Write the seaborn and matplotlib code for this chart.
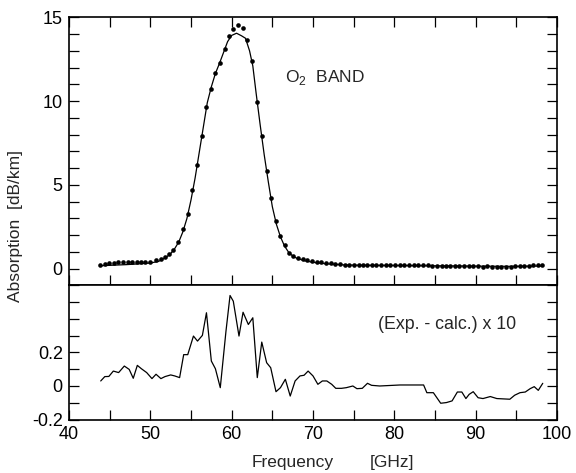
import matplotlib
matplotlib.use("Agg")
import matplotlib.pyplot as plt
from matplotlib.ticker import MultipleLocator, FixedLocator
import seaborn as sns

# Measured absorption (dots)
freq_exp = [43.8, 44.4, 44.9, 45.5, 46.0, 46.6, 47.2, 47.7, 48.3, 48.9, 49.4, 50.0,
            50.7, 51.3, 51.8, 52.3, 52.8, 53.4, 54.05, 54.6, 55.16, 55.7, 56.3, 56.8,
            57.4, 58.0, 58.6, 59.15, 59.7, 60.2, 60.78, 61.4, 61.85, 62.5, 63.1, 63.7,
            64.3, 64.8, 65.4, 66.0, 66.6, 67.1, 67.6, 68.2, 68.8, 69.3, 69.9, 70.5,
            71.0, 71.6, 72.2, 72.7, 73.3, 73.9, 74.4, 75.0, 75.6, 76.1, 76.7, 77.3,
            77.8, 78.4, 79.0, 79.5, 80.1, 80.7, 81.2, 81.8, 82.4, 82.9, 83.5, 84.1,
            84.6, 85.2, 85.8, 86.3, 86.9, 87.5, 88.0, 88.6, 89.2, 89.7, 90.3, 90.9,
            91.4, 92.0, 92.6, 93.1, 93.7, 94.3, 94.8, 95.4, 96.0, 96.5, 97.1, 97.7, 98.2]
abs_exp = [0.21, 0.30, 0.34, 0.36, 0.38, 0.42, 0.40, 0.38, 0.42, 0.40, 0.42, 0.42,
           0.52, 0.56, 0.72, 0.86, 1.12, 1.59, 2.34, 3.29, 4.68, 6.17, 7.89, 9.62,
           10.7, 11.7, 12.3, 13.1, 13.87, 14.3, 14.54, 14.36, 13.67, 12.38, 9.96, 7.92,
           5.85, 4.2, 2.82, 1.98, 1.43, 0.93, 0.78, 0.65, 0.56, 0.50, 0.44, 0.40,
           0.37, 0.34, 0.31, 0.28, 0.26, 0.24, 0.23, 0.22, 0.22, 0.22, 0.22, 0.22,
           0.22, 0.22, 0.22, 0.22, 0.22, 0.22, 0.22, 0.22, 0.22, 0.21, 0.22, 0.20,
           0.18, 0.16, 0.14, 0.14, 0.14, 0.17, 0.17, 0.15, 0.15, 0.17, 0.14, 0.13,
           0.14, 0.13, 0.13, 0.13, 0.13, 0.13, 0.15, 0.16, 0.17, 0.18, 0.19, 0.19, 0.22]

# Calculated absorption (solid line)
freq_calc = [43.8, 45.0, 46.0, 47.0, 48.0, 49.0, 50.0, 51.0, 52.0, 52.5, 53.0, 53.5,
             54.0, 54.5, 55.0, 55.5, 56.0, 56.5, 57.0, 57.5, 58.0, 58.5, 59.0, 59.5,
             60.0, 60.6, 61.2, 61.7, 62.2, 62.6, 63.0, 63.5, 64.0, 64.5, 65.0, 65.5,
             66.0, 66.5, 67.0, 67.5, 68.0, 69.0, 70.0, 71.0, 72.0, 74.0, 76.0, 80.0,
             85.0, 90.0, 95.0, 98.2]
abs_calc = [0.17, 0.20, 0.22, 0.24, 0.27, 0.30, 0.34, 0.43, 0.70, 0.90, 1.20, 1.60,
            2.20, 3.00, 4.10, 5.40, 6.90, 8.40, 9.90, 10.85, 11.65, 12.25, 12.90, 13.55,
            13.92, 14.05, 13.90, 13.75, 13.00, 12.10, 10.50, 8.60, 6.80, 5.20, 3.70, 2.65,
            1.90, 1.35, 0.98, 0.76, 0.62, 0.47, 0.38, 0.32, 0.28, 0.22, 0.20, 0.19,
            0.17, 0.15, 0.14, 0.16]

# Residual (Exp. - calc.) x 10
freq_res = [43.9, 44.4, 44.9, 45.45, 46.1, 46.8, 47.4, 47.9, 48.4, 48.9, 49.55, 50.2,
            50.7, 51.3, 51.8, 52.5, 53.0, 53.6, 54.1, 54.6, 55.3, 55.8, 56.4, 56.9,
            57.5, 58.0, 58.6, 59.3, 59.8, 60.2, 60.9, 61.4, 62.05, 62.6, 63.15, 63.7,
            64.3, 64.8, 65.45, 66.0, 66.6, 67.2, 67.8, 68.4, 68.9, 69.4, 70.0, 70.6,
            71.15, 71.7, 72.3, 72.8, 73.5, 74.1, 74.9, 75.4, 76.06, 76.7, 77.2, 78.2,
            80.7, 83.6, 84.0, 84.8, 85.7, 86.4, 87.1, 87.75, 88.3, 88.8, 89.2, 89.7,
            90.3, 90.9, 91.8, 92.6, 94.2, 94.8, 95.45, 96.1, 96.7, 97.2, 97.7, 98.25]
resid = [0.030, 0.056, 0.057, 0.089, 0.080, 0.119, 0.099, 0.046, 0.123, 0.103, 0.080, 0.044,
         0.070, 0.044, 0.056, 0.066, 0.060, 0.050, 0.187, 0.187, 0.298, 0.268, 0.302, 0.437,
         0.149, 0.103, -0.010, 0.327, 0.540, 0.506, 0.298, 0.440, 0.367, 0.407, 0.050, 0.262,
         0.139, 0.109, -0.034, -0.010, 0.040, -0.060, 0.030, 0.060, 0.064, 0.089, 0.060, 0.010,
         0.030, 0.030, 0.010, -0.014, -0.014, -0.010, 0.000, -0.016, -0.014, 0.016, 0.004, 0.000,
         0.006, 0.006, -0.040, -0.040, -0.103, -0.099, -0.089, -0.036, -0.036, -0.075, -0.050, -0.034,
         -0.070, -0.075, -0.063, -0.075, -0.079, -0.055, -0.040, -0.036, -0.016, -0.004, -0.026, 0.016]

x_ticks = [40, 50, 60, 70, 80, 90, 100]
y1_ticks = [0, 5, 10, 15]
y2_ticks = [-0.2, 0, 0.2]
y2_labels = ["-0.2", "0", "0.2"]

sns.set_style("ticks")
plt.rcParams['font.family'] = ['Liberation Sans', 'DejaVu Sans']
plt.rcParams['mathtext.fontset'] = 'custom'
plt.rcParams['mathtext.rm'] = 'Liberation Sans'
plt.rcParams['axes.unicode_minus'] = False

fig = plt.figure(figsize=(5.76, 4.73), dpi=100)
gs = fig.add_gridspec(2, 1, height_ratios=[2, 1], hspace=0,
                      left=0.1198, right=0.967, top=0.9634, bottom=0.1131)
ax1 = fig.add_subplot(gs[0])
ax2 = fig.add_subplot(gs[1], sharex=ax1)

sns.lineplot(x=freq_calc, y=abs_calc, ax=ax1, color='k', lw=0.9, estimator=None)
sns.scatterplot(x=freq_exp, y=abs_exp, ax=ax1, color='k', s=11, linewidth=0, zorder=3)
sns.lineplot(x=freq_res, y=resid, ax=ax2, color='k', lw=0.9, estimator=None)

ax1.set_xlim(40, 100)
ax1.set_ylim(-1, 15)
ax2.set_ylim(-0.2, 0.6)

ax1.xaxis.set_major_locator(FixedLocator(x_ticks))
ax1.xaxis.set_minor_locator(MultipleLocator(5))
ax1.yaxis.set_major_locator(FixedLocator(y1_ticks))
ax1.yaxis.set_minor_locator(MultipleLocator(1))
ax2.yaxis.set_major_locator(FixedLocator(y2_ticks))
ax2.set_yticklabels(y2_labels)
ax2.yaxis.set_minor_locator(MultipleLocator(0.1))

for ax in (ax1, ax2):
    for sp in ax.spines.values():
        sp.set_linewidth(1.2)
        sp.set_color('k')
    ax.tick_params(which='both', direction='in', length=7, width=0.9, colors='k',
                   labelsize=13, right=True)
    ax.tick_params(axis='y', pad=4.5)
    ax.tick_params(axis='x', pad=5)
    ax.set_xlabel("")
    ax.set_ylabel("")
ax1.tick_params(which='both', top=True, labelbottom=False)
ax2.tick_params(which='both', top=False)

ax1.text(66.6, 11.4, r"O$_\mathregular{2}$  BAND", fontsize=12.5, ha='left', va='center')
ax2.text(78.0, 0.367, "(Exp. - calc.) x 10", fontsize=12.8, ha='left', va='center')

fig.text(252/576, 1 - 466.7/473, "Frequency", fontsize=12.5, ha='left', va='baseline')
fig.text(370/576, 1 - 466.7/473, "[GHz]", fontsize=12.5, ha='left', va='baseline')
fig.text(16/576, 1 - 302/473, "Absorption  [dB/km]", fontsize=12.5, rotation=90,
         ha='center', va='bottom')

fig.savefig("out.png", dpi=100)
